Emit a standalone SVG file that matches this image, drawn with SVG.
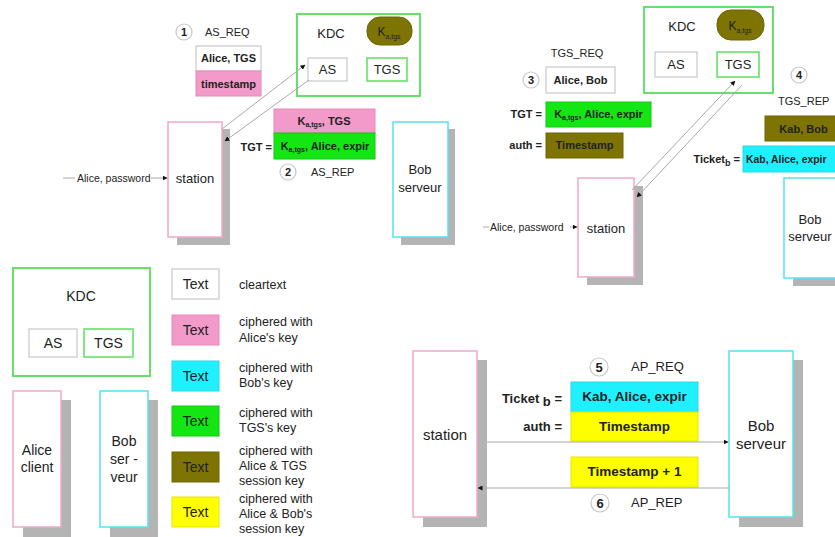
<svg xmlns="http://www.w3.org/2000/svg" width="835" height="537" viewBox="0 0 835 537">
<style>
text{font-family:"Liberation Sans",Arial,sans-serif;fill:#222}
.t11{font-size:11px}
.t12{font-size:12px}
.t125{font-size:12.5px}
.t13{font-size:13px}
.t14{font-size:14px}
.t15{font-size:15px}
.b{font-weight:bold}
.m{text-anchor:middle}
.e{text-anchor:end}
.sub{font-size:7px}
.clear{fill:#fff;stroke:#c8c8c8;stroke-width:1.2}
.pink{fill:#f29ac9;stroke:#e88ab8;stroke-width:1}
.cyan{fill:#1ff0ff;stroke:#2ad8e8;stroke-width:1}
.green{fill:#14e614;stroke:#10c810;stroke-width:1}
.olive{fill:#7d7404;stroke:#6e6600;stroke-width:1}
.yellow{fill:#ffff00;stroke:#e6e600;stroke-width:1}
.kdc{fill:#fff;stroke:#66e066;stroke-width:2}
.tgs{fill:#fff;stroke:#66e066;stroke-width:1.6}
.sta{fill:#fff;stroke:#f0a8c8;stroke-width:1.5}
.bob{fill:#fff;stroke:#50e4ee;stroke-width:1.5}
.sh{fill:#b4b4b4}
.num{fill:#fff;stroke:#c8c8c8;stroke-width:1.2}
.ln{stroke:#a8a8a8;stroke-width:1;fill:none}
.lna{stroke:#a8a8a8;stroke-width:1;fill:none;marker-end:url(#ah)}
</style>
<defs>
<marker id="ah" viewBox="0 0 10 10" refX="9" refY="5" markerWidth="5" markerHeight="5" orient="auto" markerUnits="userSpaceOnUse">
<path d="M0,0 L10,5 L0,10 z" fill="#111"/>
</marker>
</defs>
<rect width="835" height="537" fill="#fff"/>

<!-- ============ TOP-LEFT: AS exchange ============ -->
<g id="tl-kdc">
<rect class="kdc" x="297" y="14" width="123" height="82"/>
<text class="t13 m" x="331" y="38">KDC</text>
<rect class="olive" x="367" y="17" width="45" height="28" rx="13"/>
<text class="t12 m" x="389" y="36">K<tspan class="sub" dy="3">a,tgs</tspan></text>
<rect class="clear" x="308" y="58" width="39" height="23"/>
<text class="t13 m" x="327.5" y="74">AS</text>
<rect class="tgs" x="367" y="58" width="40" height="23"/>
<text class="t13 m" x="387" y="74">TGS</text>
</g>
<g id="tl-station">
<rect class="sh" x="177" y="129" width="53" height="116"/>
<rect class="sta" x="168" y="122" width="54" height="115"/>
<text class="t13 m" x="195" y="183">station</text>
</g>
<g id="tl-bob">
<rect class="sh" x="401" y="129" width="54" height="116"/>
<rect class="bob" x="393" y="122" width="55" height="115"/>
<text class="t13 m" x="420" y="174">Bob</text>
<text class="t13 m" x="420" y="192">serveur</text>
</g>
<g id="tl-asreq">
<circle class="num" cx="184" cy="32" r="8"/>
<text class="t11 b m" x="184" y="36">1</text>
<text class="t11" x="205" y="36">AS_REQ</text>
<rect class="clear" x="196" y="46" width="65" height="25"/>
<text class="t11 b m" x="228.5" y="62">Alice, TGS</text>
<rect class="pink" x="196" y="71" width="65" height="25"/>
<text class="t11 b m" x="228.5" y="88">timestamp</text>
</g>
<g id="tl-asrep">
<rect class="pink" x="274" y="109" width="101" height="24"/>
<text class="t11 b m" x="324" y="125">K<tspan class="sub" dy="2">a,tgs</tspan><tspan dy="-2">, TGS</tspan></text>
<rect class="green" x="274" y="133" width="101" height="26"/>
<text class="t11 b e" x="272" y="151">TGT =</text>
<text class="t11 b m" x="325" y="150">K<tspan class="sub" dy="2">a,tgs</tspan><tspan dy="-2">, Alice, expir</tspan></text>
<circle class="num" cx="288" cy="172" r="8"/>
<text class="t11 b m" x="288" y="176">2</text>
<text class="t11" x="311" y="176">AS_REP</text>
</g>
<g id="tl-connectors">
<line class="ln" x1="63" y1="178" x2="75" y2="178"/>
<text class="t11" x="77" y="182" style="font-size:10.5px">Alice, password</text>
<line class="lna" x1="151" y1="178" x2="167" y2="178"/>
<line class="lna" x1="222" y1="129" x2="305" y2="65"/>
<line class="lna" x1="309" y1="80" x2="225" y2="141"/>
</g>

<!-- ============ TOP-RIGHT: TGS exchange ============ -->
<g id="tr-kdc">
<rect class="kdc" x="644" y="7" width="129" height="86"/>
<text class="t13 m" x="682" y="31">KDC</text>
<rect class="olive" x="717" y="10" width="47" height="30" rx="14"/>
<text class="t12 m" x="740" y="30">K<tspan class="sub" dy="3">a,tgs</tspan></text>
<rect class="clear" x="655" y="52" width="42" height="25"/>
<text class="t13 m" x="676" y="69">AS</text>
<rect class="tgs" x="717" y="52" width="42" height="25"/>
<text class="t13 m" x="738" y="69">TGS</text>
</g>
<g id="tr-station">
<rect class="sh" x="587" y="186" width="56" height="99"/>
<rect class="sta" x="578" y="178" width="56" height="99"/>
<text class="t13 m" x="606" y="233">station</text>
</g>
<g id="tr-bob">
<rect class="sh" x="793" y="186" width="60" height="100"/>
<rect class="bob" x="784" y="178" width="60" height="100"/>
<text class="t13 m" x="810" y="224">Bob</text>
<text class="t13 m" x="810" y="241">serveur</text>
</g>
<g id="tr-tgsreq">
<text class="t11 m" x="577" y="57">TGS_REQ</text>
<circle class="num" cx="531" cy="80" r="8"/>
<text class="t11 b m" x="531" y="84">3</text>
<rect class="clear" x="546" y="67" width="69" height="26"/>
<text class="t11 b m" x="580.5" y="84">Alice, Bob</text>
<text class="t11 b e" x="542" y="118">TGT =</text>
<rect class="green" x="546" y="102" width="105" height="25"/>
<text class="t11 b m" x="598.5" y="118">K<tspan class="sub" dy="2">a,tgs</tspan><tspan dy="-2">, Alice, expir</tspan></text>
<text class="t11 b e" x="542" y="149">auth =</text>
<rect class="olive" x="546" y="133" width="77" height="25"/>
<text class="t11 b m" x="584.5" y="149">Timestamp</text>
</g>
<g id="tr-tgsrep">
<circle class="num" cx="799" cy="75" r="8"/>
<text class="t11 b m" x="799" y="79">4</text>
<text class="t11" x="778" y="105">TGS_REP</text>
<rect class="olive" x="765" y="116" width="77" height="25"/>
<text class="t11 b m" x="803.5" y="133">Kab, Bob</text>
<text class="t11 b e" x="740" y="163">Ticket<tspan class="sub" dy="3" style="font-size:9px">b</tspan><tspan dy="-3"> =</tspan></text>
<rect class="cyan" x="743" y="146" width="105" height="26"/>
<text class="t11 b" x="746" y="163" style="font-size:10.4px">Kab, Alice, expir</text>
</g>
<g id="tr-connectors">
<line class="ln" x1="483" y1="227" x2="489" y2="227"/>
<text class="t11" x="490" y="231" style="font-size:10.5px">Alice, password</text>
<line class="lna" x1="570" y1="227" x2="577" y2="227"/>
<line class="lna" x1="632" y1="190" x2="735" y2="81"/>
<line class="lna" x1="742" y1="85" x2="637" y2="197"/>
</g>

<!-- ============ BOTTOM-LEFT: legend ============ -->
<g id="lg-kdc">
<rect class="kdc" x="13" y="268" width="137" height="108"/>
<text class="t14 m" x="81" y="301">KDC</text>
<rect class="clear" x="29" y="329" width="48" height="28"/>
<text class="t14 m" x="53" y="348">AS</text>
<rect class="tgs" x="84" y="329" width="49" height="28"/>
<text class="t14 m" x="108.5" y="348">TGS</text>
</g>
<g id="lg-alice">
<rect class="sh" x="23" y="400" width="48" height="137"/>
<rect class="sta" x="13" y="391" width="48" height="136"/>
<text class="t14 m" x="37" y="455">Alice</text>
<text class="t14 m" x="37" y="472">client</text>
</g>
<g id="lg-bob">
<rect class="sh" x="110" y="400" width="48" height="137"/>
<rect class="bob" x="100" y="391" width="48" height="136"/>
<text class="t14 m" x="124" y="446">Bob</text>
<text class="t14 m" x="124" y="464">ser -</text>
<text class="t14 m" x="124" y="482">veur</text>
</g>
<g id="lg-clear">
<rect class="clear" x="172" y="269" width="47" height="30"/>
<text class="t14 m" x="195.5" y="289">Text</text>
<text class="t125" x="239" y="289">cleartext</text>
</g>
<g id="lg-pink">
<rect class="pink" x="172" y="315" width="47" height="30"/>
<text class="t14 m" x="195.5" y="335">Text</text>
<text class="t125" x="239" y="326">ciphered with</text>
<text class="t125" x="239" y="342">Alice's key</text>
</g>
<g id="lg-cyan">
<rect class="cyan" x="172" y="361" width="47" height="30"/>
<text class="t14 m" x="195.5" y="381">Text</text>
<text class="t125" x="239" y="372">ciphered with</text>
<text class="t125" x="239" y="387">Bob's key</text>
</g>
<g id="lg-green">
<rect class="green" x="172" y="406" width="47" height="30"/>
<text class="t14 m" x="195.5" y="426">Text</text>
<text class="t125" x="239" y="417">ciphered with</text>
<text class="t125" x="239" y="432">TGS's key</text>
</g>
<g id="lg-olive">
<rect class="olive" x="172" y="452" width="47" height="30"/>
<text class="t14 m" x="195.5" y="472">Text</text>
<text class="t125" x="239" y="455">ciphered with</text>
<text class="t125" x="239" y="470">Alice &amp; TGS</text>
<text class="t125" x="239" y="485">session key</text>
</g>
<g id="lg-yellow">
<rect class="yellow" x="172" y="497" width="47" height="30"/>
<text class="t14 m" x="195.5" y="517">Text</text>
<text class="t125" x="239" y="503">ciphered with</text>
<text class="t125" x="239" y="518">Alice &amp; Bob's</text>
<text class="t125" x="239" y="533">session key</text>
</g>

<!-- ============ BOTTOM-RIGHT: AP exchange ============ -->
<g id="br-station">
<rect class="sh" x="423" y="360" width="64" height="167"/>
<rect class="sta" x="413" y="351" width="64" height="166"/>
<text class="t15 m" x="445" y="440">station</text>
</g>
<g id="br-bob">
<rect class="sh" x="739" y="360" width="64" height="167"/>
<rect class="bob" x="729" y="351" width="64" height="166"/>
<text class="t15 m" x="761" y="431">Bob</text>
<text class="t15 m" x="761" y="449">serveur</text>
</g>
<g id="br-apreq">
<circle class="num" cx="599" cy="367" r="9"/>
<text class="t13 b m" x="599" y="372">5</text>
<text class="t13" x="631" y="371">AP_REQ</text>
<text class="t13 b e" x="562" y="403">Ticket <tspan dy="3">b</tspan><tspan dy="-3"> =</tspan></text>
<rect class="cyan" x="571" y="382" width="127" height="30"/>
<text class="t13 b m" x="634.5" y="401" style="font-size:13.5px">Kab, Alice, expir</text>
<text class="t13 b e" x="562" y="431">auth =</text>
<rect class="yellow" x="571" y="412" width="127" height="29"/>
<text class="t13 b m" x="634.5" y="431" style="font-size:13.5px">Timestamp</text>
</g>
<g id="br-aprep">
<rect class="yellow" x="571" y="457" width="127" height="30"/>
<text class="t13 b m" x="634.5" y="476" style="font-size:13.5px">Timestamp + 1</text>
<circle class="num" cx="600" cy="503" r="9"/>
<text class="t13 b m" x="600" y="508">6</text>
<text class="t13" x="631" y="507">AP_REP</text>
</g>
<g id="br-connectors">
<line class="lna" x1="487" y1="442" x2="728" y2="442"/>
<line class="lna" x1="729" y1="488" x2="478" y2="488"/>
</g>
</svg>
